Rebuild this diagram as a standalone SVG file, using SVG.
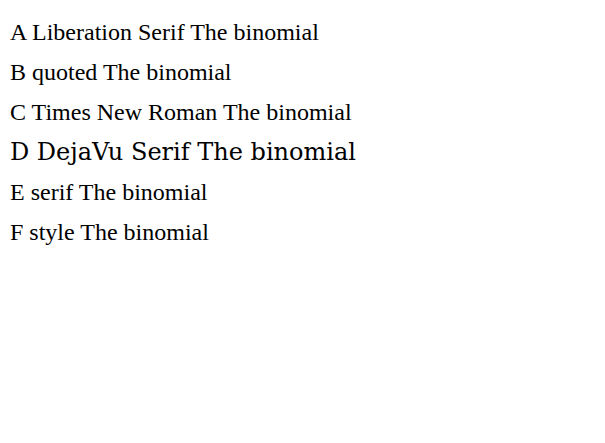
<svg xmlns="http://www.w3.org/2000/svg" width="605" height="443" viewBox="0 0 605 443">
<rect width="605" height="443" fill="#fff"/>
<text x="10" y="40" font-family="Liberation Serif" font-size="24">A Liberation Serif The binomial</text>
<text x="10" y="80" font-family="'Liberation Serif'" font-size="24">B quoted The binomial</text>
<text x="10" y="120" font-family="Times New Roman" font-size="24">C Times New Roman The binomial</text>
<text x="10" y="160" font-family="DejaVu Serif" font-size="24">D DejaVu Serif The binomial</text>
<text x="10" y="200" font-family="serif" font-size="24">E serif The binomial</text>
<text x="10" y="240" style="font-family:'Liberation Serif',serif;font-size:24px">F style The binomial</text>
</svg>
